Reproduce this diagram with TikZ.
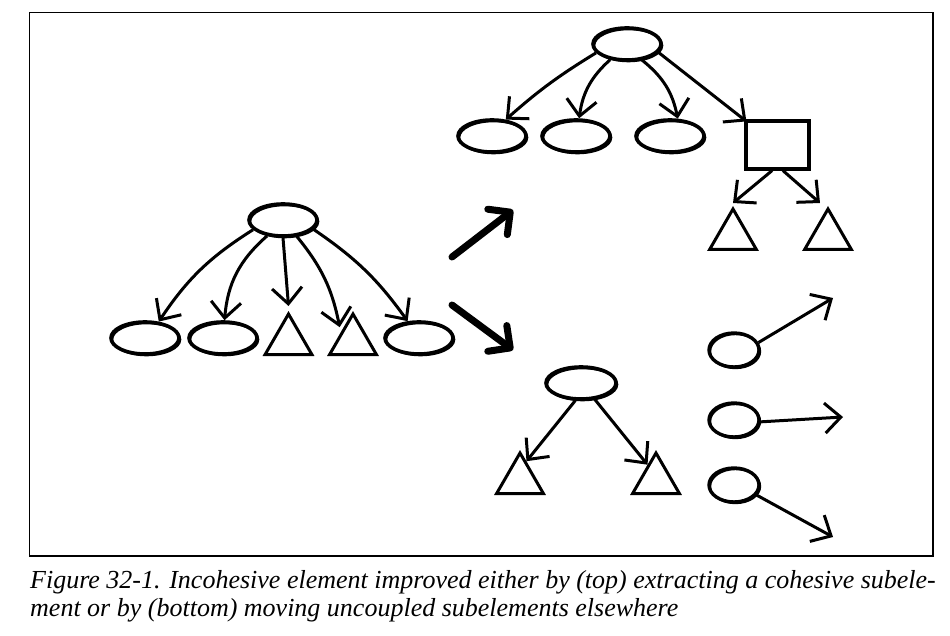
\documentclass[tikz,border=0pt]{standalone}
\usepackage{fontspec}
\setmainfont{Liberation Serif}
\usetikzlibrary{shapes.geometric,arrows.meta}
\tikzset{
  x=1pt,y=-1pt,
  blob/.style={ellipse,draw,line width=3.6pt,inner sep=0pt,minimum width=68pt,minimum height=32pt,
    preaction={draw,line width=1.6pt,transform canvas={shift={(1.5pt,-1.5pt)}}}},
  dot/.style={ellipse,draw,line width=3.4pt,inner sep=0pt,minimum width=50pt,minimum height=34pt,
    preaction={draw,line width=1.6pt,transform canvas={shift={(1.4pt,-1.4pt)}}}},
  tri/.style={regular polygon,regular polygon sides=3,draw,line width=3pt,line join=miter,inner sep=0pt,minimum size=54pt},
  boxnode/.style={rectangle,draw,line width=3.2pt,inner sep=0pt,minimum width=63pt,minimum height=48pt},
  link/.style={line width=3pt,-{Straight Barb[length=16pt,width=30pt,line width=3pt]}},
  bigarrow/.style={line width=7pt,line cap=round,-{Straight Barb[length=16pt,width=32pt,line width=7pt,round]}},
  frame/.style={line width=1.6pt},
  captext/.style={anchor=base west,inner sep=0pt,font=\fontsize{26}{29}\selectfont\itshape}
}
\begin{document}
\begin{tikzpicture}
\useasboundingbox (0,0) rectangle (950,636);
\draw[frame] (29.5,12.5) rectangle (933,556);

% left tree
\node[blob] (L) at (283,220) {};
\node[blob] (l1) at (145,338) {};
\node[blob] (l2) at (223,338) {};
\node[tri] (l3) at (288.5,341) {};
\node[tri] (l4) at (353,341) {};
\node[blob] (l5) at (419,338) {};
\draw[link] (L.198) to[bend right=12] (l1.50);
\draw[link] (L.225) to[bend right=22] (l2.85);
\draw[link] (L.south) -- ([yshift=5pt]l3.corner 1);
\draw[link] (L.310) to[bend left=14] ([xshift=-4pt]l4.124);
\draw[link] (L.343) to[bend left=10] (l5.124);

% big arrows
\coordinate (a1s) at (452,257);
\coordinate (a1e) at (513,210);
\coordinate (a2s) at (452,305);
\coordinate (a2e) at (513,350);
\draw[bigarrow] (a1s) -- (a1e);
\draw[bigarrow] (a2s) -- (a2e);

% top tree
\node[blob] (T) at (627,44) {};
\node[blob] (t1) at (492,136) {};
\node[blob] (t2) at (576,136) {};
\node[blob] (t3) at (670,136) {};
\node[boxnode] (R) at (777.5,145) {};
\node[tri] (t4) at (733,236) {};
\node[tri] (t5) at (828,236) {};
\draw[link] (T.196) to[bend right=5] (t1.50);
\draw[link] (T.223) to[bend right=20] (t2.80);
\draw[link] (T.313) to[bend left=20] (t3.66);
\draw[link] (T.345) -- ([shift={(2pt,-2pt)}]R.north west);
\draw[link] (R.258) -- ([yshift=3pt]t4.corner 1);
\draw[link] (R.282) -- ([shift={(-8pt,3pt)}]t5.corner 1);

% bottom tree
\node[blob,minimum width=70pt] (B) at (581,383) {};
\node[tri] (b1) at (520,480) {};
\node[tri] (b2) at (656,480) {};
\draw[link] (B.252) -- (b1.71);
\draw[link] (B.310) -- (b2.119);

% moved elements
\node[dot] (m1) at (734,350) {};
\node[dot] (m2) at (734,420) {};
\node[dot] (m3) at (734,485) {};
\coordinate (e1) at (833,298);
\coordinate (e2) at (843,417);
\coordinate (e3) at (833,537);
\draw[link] (m1.17) -- (e1);
\draw[link] (m2.-4) -- (e2);
\draw[link] (m3.-24) -- (e3);

% caption
\node[captext] (cap1) at (30,588) {Figure 32-1. Incohesive element improved either by (top) extracting a cohesive subele-};
\node[captext] (cap2) at (30,616) {ment or by (bottom) moving uncoupled subelements elsewhere};
\end{tikzpicture}
\end{document}
